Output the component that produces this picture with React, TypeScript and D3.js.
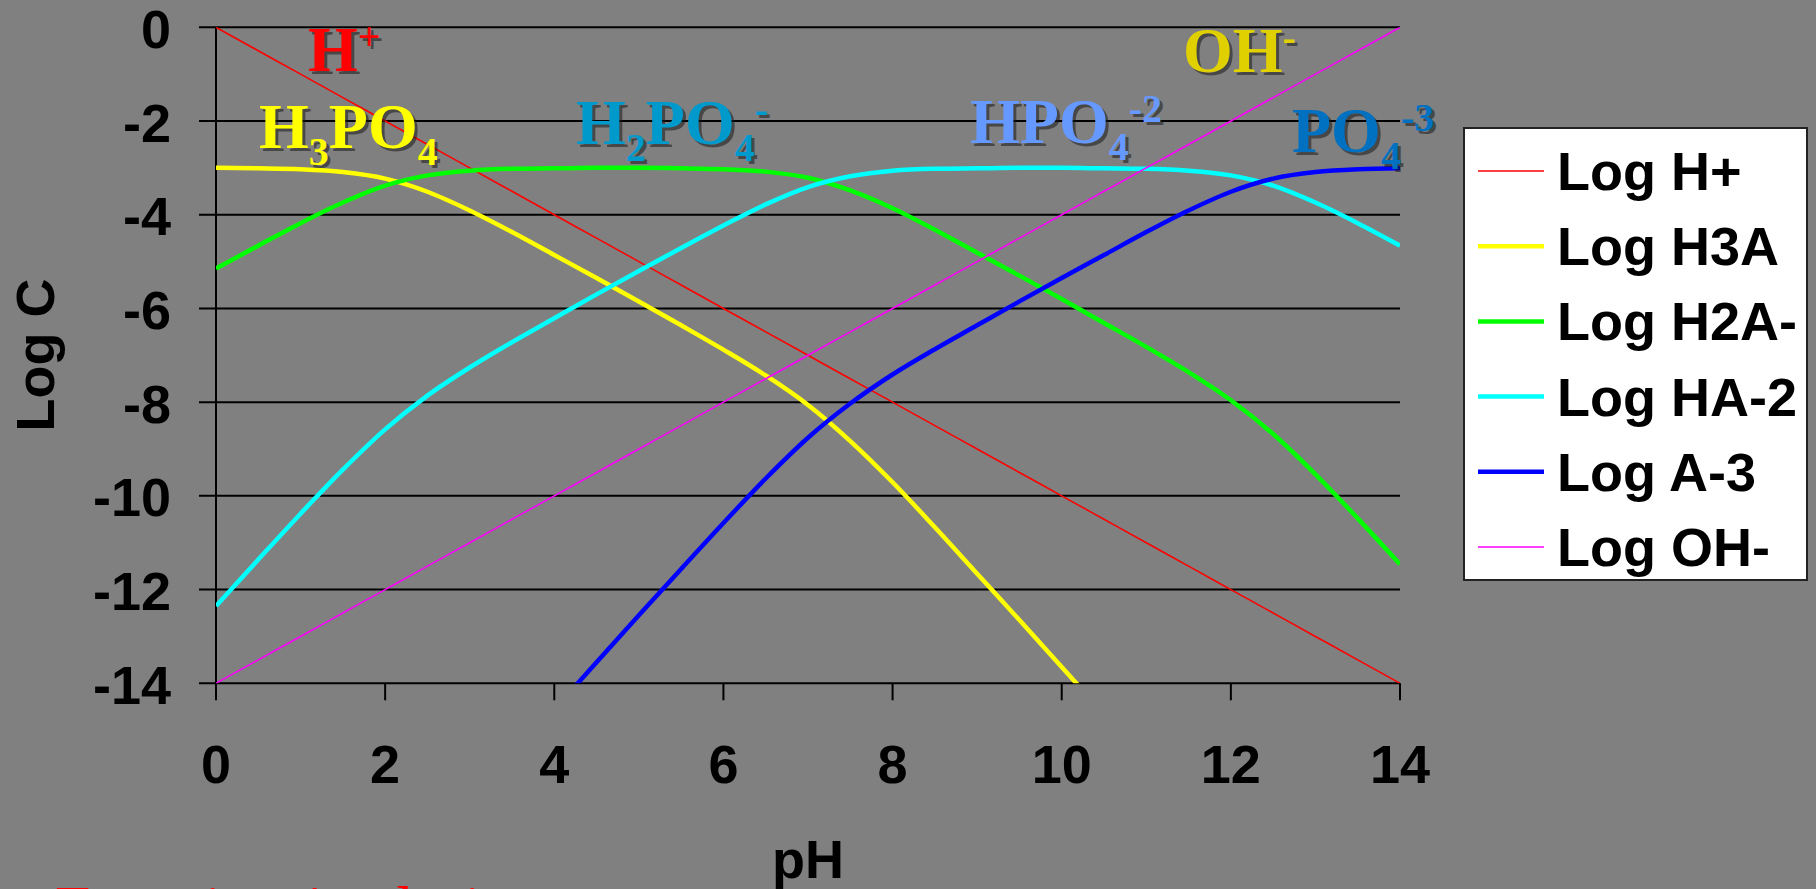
import React from "react";
import * as d3 from "d3";

// pH grid the curves were read at
const PH = [
  0, 0.5, 1, 1.5, 2, 2.5, 3, 3.5, 4, 4.5, 5, 5.5, 6, 6.5, 7, 7.5, 8, 8.5, 9, 9.5,
  10, 10.5, 11, 11.5, 12, 12.5, 13, 13.5, 14,
];

const LOG_H = [
  0, -0.5, -1, -1.5, -2, -2.5, -3, -3.5, -4, -4.5, -5, -5.5, -6, -6.5, -7, -7.5,
  -8, -8.5, -9, -9.5, -10, -10.5, -11, -11.5, -12, -12.5, -13, -13.5, -14,
];

const LOG_H3A = [
  -3.0, -3.01, -3.03, -3.09, -3.23, -3.51, -3.91, -4.37, -4.86, -5.35, -5.85,
  -6.36, -6.88, -7.43, -8.06, -8.83, -9.71, -10.67, -11.66, -12.65, -13.65,
  -14.66, null, null, null, null, null, null, null,
];

const LOG_H2A = [
  -5.15, -4.66, -4.18, -3.74, -3.38, -3.16, -3.06, -3.02, -3.01, -3.0, -3.0,
  -3.01, -3.03, -3.08, -3.21, -3.48, -3.86, -4.32, -4.81, -5.3, -5.8, -6.31,
  -6.82, -7.36, -7.96, -8.68, -9.54, -10.48, -11.46,
];

const LOG_HA = [
  -12.35, -11.36, -10.38, -9.44, -8.58, -7.86, -7.26, -6.72, -6.21, -5.7, -5.2,
  -4.71, -4.23, -3.78, -3.41, -3.18, -3.06, -3.02, -3.01, -3.0, -3.0, -3.01,
  -3.02, -3.06, -3.16, -3.38, -3.74, -4.18, -4.66,
];

const LOG_A = [
  null, null, null, null, null, null, null, null, -14.56, -13.55, -12.55,
  -11.56, -10.58, -9.63, -8.76, -8.03, -7.41, -6.87, -6.36, -5.85, -5.35, -4.86,
  -4.37, -3.91, -3.51, -3.23, -3.09, -3.03, -3.01,
];

const LOG_OH = [
  -14, -13.5, -13, -12.5, -12, -11.5, -11, -10.5, -10, -9.5, -9, -8.5, -8, -7.5,
  -7, -6.5, -6, -5.5, -5, -4.5, -4, -3.5, -3, -2.5, -2, -1.5, -1, -0.5, 0,
];

const SERIES_NAMES = ["Log H+", "Log H3A", "Log H2A-", "Log HA-2", "Log A-3", "Log OH-"];
const X_TICKS = [0, 2, 4, 6, 8, 10, 12, 14];
const Y_TICKS = [0, -2, -4, -6, -8, -10, -12, -14];

// species labels: [text, "" | "sub" | "sup"]
const SPECIES_LABELS: [string, string][][] = [
  [["H", ""], ["+", "sup"]],
  [["H", ""], ["3", "sub"], ["PO", ""], ["4", "sub"]],
  [["H", ""], ["2", "sub"], ["PO", ""], ["4", "sub"], ["-", "sup"]],
  [["HPO", ""], ["4", "sub"], ["-2", "sup"]],
  [["OH", ""], ["-", "sup"]],
  [["PO", ""], ["4", "sub"], ["-3", "sup"]],
];
const NOTE = "Exercise 4 solution";

const W = 1816;
const H = 889;
const SANS = "Arial, 'Liberation Sans', sans-serif";
const SERIF = "'Times New Roman', 'Liberation Serif', serif";

const x = d3.scaleLinear().domain([0, 14]).range([216, 1400]);
const y = d3.scaleLinear().domain([-14, 0]).range([683.3, 27.3]);

const seriesData = [LOG_H, LOG_H3A, LOG_H2A, LOG_HA, LOG_A, LOG_OH];
const seriesColor = ["#ff0000", "#ffff00", "#00ff00", "#00ffff", "#0000ff", "#ff00ff"];
const seriesWidth = [1.6, 4.5, 4.5, 4.5, 4.5, 1.6];

const labelPos = [
  { x: 308, y: 71, color: "#ff0000" },
  { x: 259, y: 148, color: "#ffff00" },
  { x: 576, y: 144, color: "#0099cc" },
  { x: 970, y: 143, color: "#6699ff" },
  { x: 1183, y: 72, color: "#e0d000" },
  { x: 1292, y: 152, color: "#0070c0" },
];

const SpeciesLabel = ({ parts, px, py, fill }) => {
  const shift = { "": 0, sub: 17, sup: -21 };
  let cur = 0;
  const spans = parts.map(([t, kind], i) => {
    const dy = shift[kind] - cur;
    cur = shift[kind];
    return (
      <tspan key={i} dy={dy} fontSize={kind ? 40 : 64}>
        {t}
      </tspan>
    );
  });
  return (
    <text x={px} y={py} fill={fill} fontFamily={SERIF} fontWeight="bold">
      {spans}
    </text>
  );
};

export default function App() {
  const line = (vals: (number | null)[]) =>
    d3
      .line<number>()
      .defined((_, i) => vals[i] !== null)
      .x((d) => x(d))
      .y((_, i) => y(vals[i] as number))
      .curve(d3.curveMonotoneX)(PH);

  const legendY = (i: number) => 171 + i * 75.2;

  return (
    <svg
      width={W}
      height={H}
      style={{ position: "absolute", left: 0, top: 0, display: "block" }}
    >
      <defs>
        <clipPath id="plot">
          <rect x={x(0)} y={y(0)} width={x(14) - x(0)} height={y(-14) - y(0)} />
        </clipPath>
      </defs>
      <rect width={W} height={H} fill="#808080" />

      {/* grid + axes */}
      {Y_TICKS.map((t) => (
        <line key={t} x1={x(0) - 17} x2={x(14)} y1={y(t)} y2={y(t)} stroke="#000" strokeWidth={2} />
      ))}
      <line x1={x(0)} x2={x(0)} y1={y(0)} y2={y(-14)} stroke="#000" strokeWidth={2} />
      {X_TICKS.map((t) => (
        <line key={t} x1={x(t)} x2={x(t)} y1={y(-14)} y2={y(-14) + 17} stroke="#000" strokeWidth={2} />
      ))}

      {Y_TICKS.map((t) => (
        <text key={t} x={171} y={y(t) + 20.5} textAnchor="end" fontFamily={SANS} fontWeight="bold" fontSize={54}>
          {t}
        </text>
      ))}
      {X_TICKS.map((t) => (
        <text key={t} x={x(t)} y={783} textAnchor="middle" fontFamily={SANS} fontWeight="bold" fontSize={54}>
          {t}
        </text>
      ))}
      <text x={808} y={878} textAnchor="middle" fontFamily={SANS} fontWeight="bold" fontSize={54}>
        pH
      </text>
      <text transform="translate(54,355) rotate(-90)" textAnchor="middle" fontFamily={SANS} fontWeight="bold" fontSize={54}>
        Log C
      </text>

      {/* curves */}
      <g clipPath="url(#plot)">
        {seriesData.map((vals, i) => (
          <path key={i} d={line(vals) ?? ""} fill="none" stroke={seriesColor[i]} strokeWidth={seriesWidth[i]} strokeLinejoin="round" />
        ))}
      </g>

      {/* species labels with drop shadow */}
      {SPECIES_LABELS.map((parts, i) => (
        <g key={i}>
          <g opacity={0.55}>
            <SpeciesLabel parts={parts} px={labelPos[i].x + 3} py={labelPos[i].y + 3} fill="#1a1a1a" />
          </g>
          <SpeciesLabel parts={parts} px={labelPos[i].x} py={labelPos[i].y} fill={labelPos[i].color} />
        </g>
      ))}

      {/* legend */}
      <rect x={1464} y={128} width={343} height={452} fill="#fff" stroke="#222" strokeWidth={2} />
      {SERIES_NAMES.map((name, i) => (
        <g key={name}>
          <line x1={1478} x2={1544} y1={legendY(i)} y2={legendY(i)} stroke={seriesColor[i]} strokeWidth={seriesWidth[i]} />
          <text x={1557} y={legendY(i) + 19} fontFamily={SANS} fontWeight="bold" fontSize={54}>
            {name}
          </text>
        </g>
      ))}

      {/* note running off the bottom edge, as in the original slide */}
      <text x={55} y={930} fill="#ff0000" fontFamily={SERIF} fontSize={64}>
        {NOTE}
      </text>
    </svg>
  );
}
